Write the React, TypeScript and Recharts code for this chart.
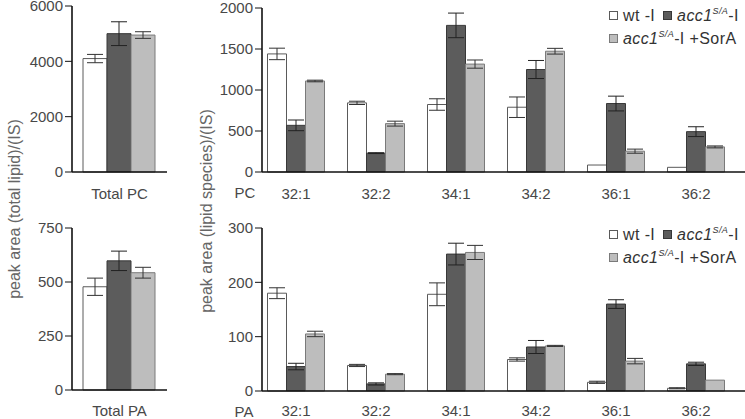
import React from 'react';
import { BarChart, Bar, XAxis, YAxis, ErrorBar } from 'recharts';

// lipid species on the x axis of the right panels
const species = ['32:1', '32:2', '34:1', '34:2', '36:1', '36:2'];

// PC species, mean and error per strain
const pcWt = [1440, 843, 823, 790, 85, 57];
const pcWtErr = [70, 20, 70, 125, 0, 0];
const pcAcc = [569, 230, 1788, 1250, 835, 492];
const pcAccErr = [65, 5, 150, 110, 90, 60];
const pcSor = [1110, 590, 1316, 1473, 254, 306];
const pcSorErr = [10, 30, 50, 35, 25, 12];

// PA species
const paWt = [180, 47, 178, 58, 16, 5];
const paWtErr = [10, 2, 21, 3, 2, 1];
const paAcc = [45, 13, 252, 81, 160, 50];
const paAccErr = [6, 2, 20, 12, 8, 3];
const paSor = [105, 31, 255, 83, 55, 20];
const paSorErr = [5, 1, 13, 1, 5, 0];

// totals
const totalPC = [4100, 5000, 4950];
const totalPCErr = [150, 430, 120];
const totalPA = [478, 598, 543];
const totalPAErr = [40, 45, 25];

const pcTicks = [0, 500, 1000, 1500, 2000];
const paTicks = [0, 100, 200, 300];
const totalPCTicks = [0, 2000, 4000, 6000];
const totalPATicks = [0, 250, 500, 750];

const FONT = '"Liberation Sans", Arial, Helvetica, sans-serif';
const TEXT = '#484848';
const AXIS = '#111';

const colors = {
  wt: { fill: '#ffffff', stroke: '#5a5a5a' },
  acc: { fill: '#5c5c5c', stroke: '#383838' },
  sor: { fill: '#bdbdbd', stroke: '#7a7a7a' },
};

const buildSpecies = (wt, wtE, acc, accE, sor, sorE) =>
  species.map((s, i) => ({
    name: s,
    wt: wt[i],
    wtErr: wtE[i],
    acc: acc[i],
    accErr: accE[i],
    sor: sor[i],
    sorErr: sorE[i],
  }));

const pcData = buildSpecies(pcWt, pcWtErr, pcAcc, pcAccErr, pcSor, pcSorErr);
const paData = buildSpecies(paWt, paWtErr, paAcc, paAccErr, paSor, paSorErr);

const buildTotal = (name, vals, errs) => [
  { name, wt: vals[0], wtErr: errs[0], acc: vals[1], accErr: errs[1], sor: vals[2], sorErr: errs[2] },
];

const tick = { fill: TEXT, fontSize: 15, fontFamily: FONT };

function Bars() {
  return (
    <>
      <Bar dataKey="wt" fill={colors.wt.fill} stroke={colors.wt.stroke} strokeWidth={1} isAnimationActive={false}>
        <ErrorBar dataKey="wtErr" width={8} stroke="#333" strokeWidth={1} />
      </Bar>
      <Bar dataKey="acc" fill={colors.acc.fill} stroke={colors.acc.stroke} strokeWidth={1} isAnimationActive={false}>
        <ErrorBar dataKey="accErr" width={8} stroke="#222" strokeWidth={1} />
      </Bar>
      <Bar dataKey="sor" fill={colors.sor.fill} stroke={colors.sor.stroke} strokeWidth={1} isAnimationActive={false}>
        <ErrorBar dataKey="sorErr" width={8} stroke="#333" strokeWidth={1} />
      </Bar>
    </>
  );
}

function TotalChart({ data, ticks, top, marginTop, plotHeight, labelGap }) {
  return (
    <div style={{ position: 'absolute', left: 0, top }}>
      <BarChart
        width={170}
        height={marginTop + plotHeight + 40}
        data={data}
        margin={{ top: marginTop, right: 3, bottom: 0, left: 0 }}
        barCategoryGap={11}
        barGap={0}
      >
        <XAxis
          dataKey="name"
          height={40}
          tickLine={false}
          tickSize={0}
          tickMargin={labelGap}
          axisLine={{ stroke: AXIS, strokeWidth: 1.6 }}
          tick={tick}
        />
        <YAxis
          width={72}
          domain={[0, ticks[ticks.length - 1]]}
          ticks={ticks}
          interval={0}
          tickSize={7}
          tickMargin={2}
          axisLine={{ stroke: AXIS, strokeWidth: 1.6 }}
          tickLine={{ stroke: AXIS }}
          tick={tick}
        />
        {Bars()}
      </BarChart>
    </div>
  );
}

function SpeciesChart({ data, ticks, top, marginTop, plotHeight, labelGap }) {
  return (
    <div style={{ position: 'absolute', left: 190, top }}>
      <BarChart
        width={555}
        height={marginTop + plotHeight + 40}
        data={data}
        margin={{ top: marginTop, right: 0, bottom: 0, left: 0 }}
        barCategoryGap={11.5}
        barGap={0}
      >
        <XAxis
          dataKey="name"
          height={40}
          padding={{ left: -6, right: 9 }}
          tickLine={false}
          tickSize={0}
          tickMargin={labelGap}
          interval={0}
          axisLine={{ stroke: AXIS, strokeWidth: 1.6 }}
          tick={tick}
        />
        <YAxis
          width={72}
          domain={[0, ticks[ticks.length - 1]]}
          ticks={ticks}
          interval={0}
          tickSize={7}
          tickMargin={2}
          axisLine={{ stroke: AXIS, strokeWidth: 1.6 }}
          tickLine={{ stroke: AXIS }}
          tick={tick}
        />
        {Bars()}
      </BarChart>
    </div>
  );
}

function Swatch({ c }) {
  return (
    <span
      style={{
        display: 'inline-block',
        width: 7,
        height: 7,
        background: c.fill,
        border: `1px solid ${c.stroke}`,
        marginRight: 5,
        verticalAlign: 1,
      }}
    />
  );
}

function Acc() {
  return (
    <span>
      <i>acc1</i>
      <sup style={{ fontSize: 9, fontStyle: 'italic', verticalAlign: 7, lineHeight: 0 }}>S/A</sup>
    </span>
  );
}

function Legend({ top }) {
  return (
    <div
      style={{
        position: 'absolute',
        left: 609,
        top,
        fontFamily: FONT,
        fontSize: 16,
        color: '#333',
        lineHeight: '23px',
        whiteSpace: 'nowrap',
        letterSpacing: 0.4,
      }}
    >
      <div>
        <Swatch c={colors.wt} />
        wt -I <span style={{ marginLeft: 3 }} />
        <Swatch c={colors.acc} />
        <Acc />-I
      </div>
      <div>
        <Swatch c={colors.sor} />
        <Acc />-I +SorA
      </div>
    </div>
  );
}

function Text({ x, y, children, rotate = false, size = 15, color = TEXT }) {
  return (
    <div
      style={{
        position: 'absolute',
        left: x,
        top: y,
        transform: `translate(-50%, -50%)${rotate ? ' rotate(-90deg)' : ''}`,
        fontFamily: FONT,
        fontSize: size,
        color,
        whiteSpace: 'nowrap',
      }}
    >
      {children}
    </div>
  );
}

export default function App() {
  return (
    <div style={{ position: 'absolute', left: 0, top: 0, width: 745, height: 419, background: '#fff', overflow: 'hidden' }}>
      <TotalChart
        data={buildTotal('Total PC', totalPC, totalPCErr)}
        ticks={totalPCTicks}
        top={-4}
        marginTop={10}
        plotHeight={166}
        labelGap={16}
      />
      <SpeciesChart data={pcData} ticks={pcTicks} top={0} marginTop={8} plotHeight={164} labelGap={16} />
      <TotalChart
        data={buildTotal('Total PA', totalPA, totalPAErr)}
        ticks={totalPATicks}
        top={220}
        marginTop={8}
        plotHeight={162}
        labelGap={15}
      />
      <SpeciesChart data={paData} ticks={paTicks} top={220} marginTop={8} plotHeight={163} labelGap={14} />

      <Text x={245} y={192}>PC</Text>
      <Text x={244} y={411}>PA</Text>

      <Text x={15} y={209} rotate size={16} color="#666">peak area (total lipid)/(IS)</Text>
      <Text x={207} y={211} rotate size={16} color="#666">peak area (lipid species)/(IS)</Text>

      <Legend top={4} />
      <Legend top={223} />
    </div>
  );
}
